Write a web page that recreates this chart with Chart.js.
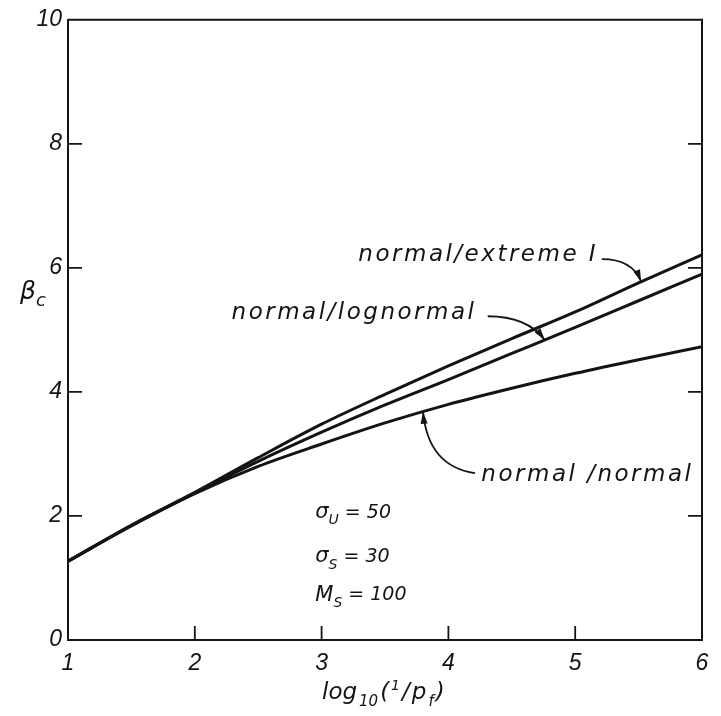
<!DOCTYPE html>
<html>
<head>
<meta charset="utf-8">
<script src="https://cdn.jsdelivr.net/npm/chart.js@4"></script>
<style>
  html, body { margin: 0; padding: 0; background: #fff; }
  #wrap { width: 721px; height: 716px; }
</style>
</head>
<body>
<div id="wrap"><canvas id="beta-chart" width="721" height="716"></canvas></div>
<script>
// log10(1/pf) positions and beta_c for each distribution pair
const logInvPf = [1, 1.5, 2, 2.5, 3, 3.5, 4, 4.5, 5, 5.5, 6];
const betaExtreme   = [1.27, 1.85, 2.38, 2.94, 3.48, 3.96, 4.42, 4.86, 5.29, 5.76, 6.21];
const betaLognormal = [1.27, 1.85, 2.37, 2.88, 3.35, 3.79, 4.20, 4.62, 5.04, 5.47, 5.90];
const betaNormal    = [1.27, 1.84, 2.36, 2.80, 3.16, 3.50, 3.80, 4.06, 4.30, 4.52, 4.73];

const xTicks = [1, 2, 3, 4, 5, 6];
const yTicks = [0, 2, 4, 6, 8, 10];

const INK = '#141414';
const TICK_FONT = '"Liberation Sans Narrow", "Liberation Sans", Arial, sans-serif';
const NOTE_FONT = '"DejaVu Sans", sans-serif';

function toPoints(ys) {
  return logInvPf.map((x, i) => ({ x: x, y: ys[i] }));
}

// y on a series at a given x (for arrow tips)
function valueAt(ys, x) {
  for (let i = 0; i < logInvPf.length - 1; i++) {
    if (x >= logInvPf[i] && x <= logInvPf[i + 1]) {
      const t = (x - logInvPf[i]) / (logInvPf[i + 1] - logInvPf[i]);
      return ys[i] + t * (ys[i + 1] - ys[i]);
    }
  }
  return ys[ys.length - 1];
}

function series(label, ys) {
  return {
    label: label,
    data: toPoints(ys),
    borderColor: INK,
    borderWidth: 3,
    pointRadius: 0,
    fill: false,
    cubicInterpolationMode: 'monotone'
  };
}

// labels with arrows pointing at the curves: text anchor (data units), arrow start, bend, tip
const curveLabels = [
  { text: 'normal/extreme I', x: 3.29, y: 6.20, from: [5.21, 6.14], bend: [5.45, 6.14], tipX: 5.52, ys: betaExtreme },
  { text: 'normal/lognormal', x: 2.29, y: 5.28, from: [4.31, 5.22], bend: [4.62, 5.22], tipX: 4.76, ys: betaLognormal },
  { text: 'normal /normal', x: 4.26, y: 2.66, from: [4.21, 2.69], bend: [3.84, 2.80], tipX: 3.80, ys: betaNormal }
];

// parameter block: [symbol, subscript, value, y]
const params = [
  ['σ', 'U', ' = 50', 2.05],
  ['σ', 'S', ' = 30', 1.34],
  ['M', 'S', ' = 100', 0.72]
];

function drawArrow(ctx, x0, y0, cx, cy, x1, y1) {
  ctx.beginPath();
  ctx.moveTo(x0, y0);
  ctx.quadraticCurveTo(cx, cy, x1, y1);
  ctx.lineWidth = 1.8;
  ctx.strokeStyle = INK;
  ctx.stroke();
  const a = Math.atan2(y1 - cy, x1 - cx);
  const len = 12, half = 3.5;
  ctx.beginPath();
  ctx.moveTo(x1, y1);
  ctx.lineTo(x1 - len * Math.cos(a) + half * Math.sin(a), y1 - len * Math.sin(a) - half * Math.cos(a));
  ctx.lineTo(x1 - len * Math.cos(a) - half * Math.sin(a), y1 - len * Math.sin(a) + half * Math.cos(a));
  ctx.closePath();
  ctx.fillStyle = INK;
  ctx.fill();
}

// draws [text, size, dy] pieces one after another, returns end x
function drawPieces(ctx, pieces, x, y, spacing) {
  pieces.forEach(p => {
    ctx.font = 'oblique ' + p[1] + 'px ' + NOTE_FONT;
    ctx.fillText(p[0], x, y + p[2]);
    x += ctx.measureText(p[0]).width + spacing;
  });
  return x;
}

const frameAndNotes = {
  id: 'frameAndNotes',
  afterDraw(chart) {
    const ctx = chart.ctx;
    const a = chart.chartArea;
    const xs = chart.scales.x, ys = chart.scales.y;
    ctx.save();

    // frame: top and right edges
    ctx.strokeStyle = INK;
    ctx.lineWidth = 2;
    ctx.beginPath();
    ctx.moveTo(a.left, a.top);
    ctx.lineTo(a.right, a.top);
    ctx.lineTo(a.right, a.bottom);
    ctx.stroke();

    // inward ticks
    ctx.lineWidth = 1.8;
    ctx.beginPath();
    xTicks.slice(1, -1).forEach(v => {
      const px = xs.getPixelForValue(v);
      ctx.moveTo(px, a.bottom);
      ctx.lineTo(px, a.bottom - 14);
    });
    yTicks.slice(1, -1).forEach(v => {
      const py = ys.getPixelForValue(v);
      ctx.moveTo(a.left, py);
      ctx.lineTo(a.left + 14, py);
      ctx.moveTo(a.right, py);
      ctx.lineTo(a.right - 14, py);
    });
    ctx.stroke();

    ctx.fillStyle = INK;
    ctx.textBaseline = 'middle';
    ctx.textAlign = 'left';

    // curve labels and arrows
    ctx.font = 'oblique 23px ' + NOTE_FONT;
    ctx.letterSpacing = '2.5px';
    curveLabels.forEach(l => {
      ctx.fillText(l.text, xs.getPixelForValue(l.x), ys.getPixelForValue(l.y));
    });
    ctx.letterSpacing = '0px';
    curveLabels.forEach(l => {
      drawArrow(ctx,
        xs.getPixelForValue(l.from[0]), ys.getPixelForValue(l.from[1]),
        xs.getPixelForValue(l.bend[0]), ys.getPixelForValue(l.bend[1]),
        xs.getPixelForValue(l.tipX), ys.getPixelForValue(valueAt(l.ys, l.tipX)));
    });

    // parameters
    params.forEach(p => {
      drawPieces(ctx, [[p[0], 21, 0], [p[1], 14, 8], [p[2], 19, 0]],
        xs.getPixelForValue(2.95), ys.getPixelForValue(p[3]), 0);
    });

    // y axis title: beta_c
    drawPieces(ctx, [['β', 25, 0], ['c', 18, 9]], 20, 292, 0);

    // x axis title: log10(1/pf)
    drawPieces(ctx, [
      ['log', 23, 0], ['10', 15, 9], ['(', 23, 0], ['1', 14, -7], ['/', 23, 0],
      ['p', 23, 0], ['f', 15, 9], [')', 23, 0]
    ], 322, 693, 2);

    ctx.restore();
  }
};

new Chart(document.getElementById('beta-chart'), {
  type: 'line',
  data: {
    datasets: [
      series('normal/extreme I', betaExtreme),
      series('normal/lognormal', betaLognormal),
      series('normal/normal', betaNormal)
    ]
  },
  options: {
    responsive: false,
    animation: false,
    layout: { padding: { top: 19, right: 19, left: 0, bottom: 0 } },
    plugins: {
      legend: { display: false },
      tooltip: { enabled: false }
    },
    scales: {
      x: {
        type: 'linear',
        min: 1,
        max: 6,
        afterFit: s => { s.height = 76; },
        afterBuildTicks: s => { s.ticks = xTicks.map(v => ({ value: v })); },
        grid: { display: false, drawTicks: false },
        border: { display: true, color: INK, width: 2 },
        ticks: {
          color: INK,
          padding: 10,
          maxRotation: 0,
          font: { family: TICK_FONT, size: 23, style: 'italic' }
        }
      },
      y: {
        type: 'linear',
        min: 0,
        max: 10,
        afterFit: s => { s.width = 68; },
        afterBuildTicks: s => { s.ticks = yTicks.map(v => ({ value: v })); },
        grid: { display: false, drawTicks: false },
        border: { display: true, color: INK, width: 2 },
        ticks: {
          color: INK,
          padding: 6,
          font: { family: TICK_FONT, size: 23, style: 'italic' }
        }
      }
    }
  },
  plugins: [frameAndNotes]
});
</script>
</body>
</html>
